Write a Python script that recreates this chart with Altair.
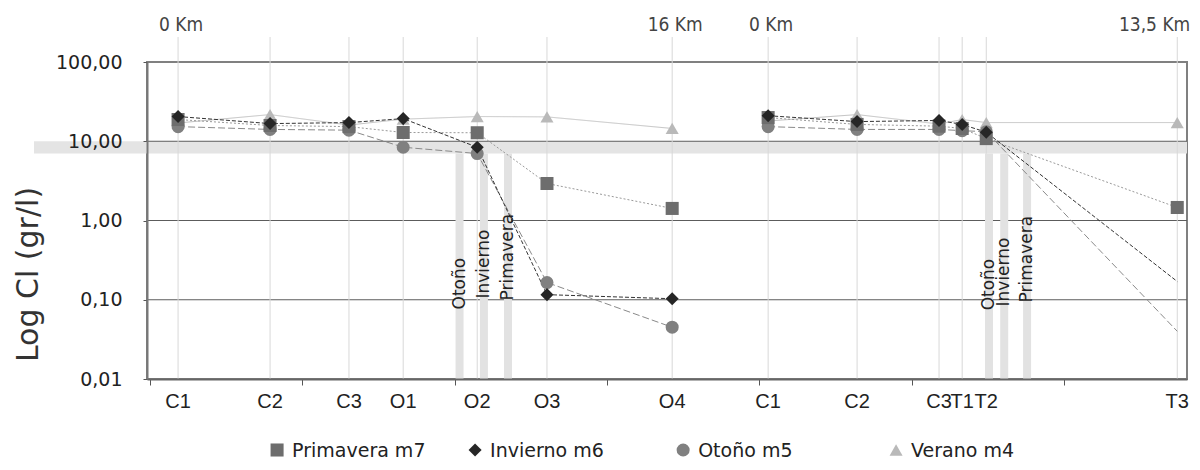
import altair as alt
import pandas as pd

# ---------------- data ----------------
stations = ["C1", "C2", "C3", "O1", "O2", "O3", "O4",
            "C1", "C2", "C3", "T1", "T2", "T3"]
river = ["O"] * 7 + ["T"] * 6
# distance along the x axis (axis units; ticks every 5)
position = [0.92, 3.94, 6.53, 8.31, 10.74, 13.03, 17.14,
            20.29, 23.21, 25.90, 26.66, 27.45, 33.72]

series_names = ["Primavera m7", "Invierno m6", "Otoño m5", "Verano m4"]
primavera = [18.8, 15.8, 15.3, 12.9, 12.8, 2.93, 1.42, 19.9, 16.3, 15.5, 14.5, 10.8, 1.46]
invierno = [20.5, 16.7, 17.2, 19.3, 8.4, 0.116, 0.103, 21.0, 17.7, 18.3, 16.3, 13.0, 0.17]
otono = [15.3, 14.1, 13.8, 8.4, 7.0, 0.165, 0.045, 15.3, 14.1, 14.1, 13.6, 13.2, 0.040]
verano = [17.0, 21.7, 16.0, 19.0, 20.5, 20.3, 14.5, 18.0, 21.7, 16.5, 18.8, 17.2, 17.2]
# points drawn as line only (no marker)
no_marker = [("Invierno m6", 12), ("Otoño m5", 12)]

km_labels = ["0 Km", "16 Km", "0 Km", "13,5 Km"]
km_station_index = [0, 6, 7, 12]

season_labels = ["Otoño", "Invierno", "Primavera", "Otoño", "Invierno", "Primavera"]
season_pos = [10.16, 10.96, 11.75, 27.54, 28.04, 28.79]
season_label_value = [0.0755, 0.1037, 0.0982, 0.0735, 0.0823, 0.0924]

band_low, band_high = 7, 10
tick_values_x = [0, 5, 10, 15, 20, 25, 30]
y_ticks = [0.01, 0.1, 1, 10, 100]

# ---------------- styles / layout ----------------
marker_colors = ["#6d6d6d", "#262626", "#808080", "#b9b9b9"]
line_colors = ["#9a9a9a", "#333333", "#8a8a8a", "#c2c2c2"]
dashes = [[2, 2], [4, 2], [7, 3], [1, 0]]
shapes = ["square", "diamond", "circle", "triangle-up"]
legend_slots = [4.17, 10.67, 17.5, 24.49]   # legend item anchors along the x axis
FONT = "DejaVu Sans"
ARIAL = "Liberation Sans"

# ---------------- tables ----------------
vals = {"Primavera m7": primavera, "Invierno m6": invierno,
        "Otoño m5": otono, "Verano m4": verano}
draw_order = ["Verano m4", "Otoño m5", "Primavera m7", "Invierno m6"]
rows = []
for name in draw_order:
    for i, v in enumerate(vals[name]):
        rows.append(dict(series=name, lseries=name, station=stations[i], river=river[i],
                         pos=position[i], value=v,
                         marker=(name, i) not in no_marker))
df = pd.DataFrame(rows)
st_df = pd.DataFrame({"pos": position, "station": stations})
km_df = pd.DataFrame({"pos": [position[i] for i in km_station_index], "label": km_labels})
season_df = pd.DataFrame({"pos": season_pos, "label": season_labels,
                          "value": season_label_value, "top": band_low})
hband_df = pd.DataFrame({"x": [-3.81], "x2": [34.04], "lo": [band_low], "hi": [band_high]})
grid_df = pd.DataFrame({"value": y_ticks[1:-1]})
legend_df = pd.DataFrame({"series": series_names, "lx": legend_slots})

# ---------------- scales / axes ----------------
xs = alt.Scale(domain=[-0.1, 34.04], nice=False, zero=False)
ys = alt.Scale(type="log", domain=[0.01, 100], nice=False)
xaxis = alt.Axis(values=tick_values_x, labels=False, title=None, grid=False,
                 ticks=True, tickSize=6, tickColor="#555555", tickWidth=1,
                 domainColor="#666666", domainWidth=2, zindex=1)
yaxis = alt.Axis(values=y_ticks,
                 labelExpr="replace(format(datum.value, '.2f'), '.', ',')",
                 title="Log Cl (gr/l)", grid=False,
                 tickSize=4, tickColor="#555555", domainColor="#777777", domainWidth=2,
                 labelFont=FONT, labelFontSize=19, labelColor="#222222", labelPadding=21,
                 titleFont=FONT, titleFontSize=30, titleFontWeight="normal",
                 titleColor="#333333", titleX=-104, titleY=212, zindex=1)
cscale = alt.Scale(domain=series_names, range=marker_colors)
sscale = alt.Scale(domain=series_names, range=shapes)

def X(field):
    return alt.X(field, scale=xs, axis=xaxis)

def Y(field):
    return alt.Y(field, scale=ys, axis=yaxis)

hband = alt.Chart(hband_df).mark_rect(color="#e4e4e4", clip=False).encode(
    x=X("x:Q"), x2="x2:Q", y=Y("lo:Q"), y2="hi:Q")

hgrid = alt.Chart(grid_df).mark_rule(color="#5c5c5c", strokeWidth=1).encode(
    y=Y("value:Q"), x=alt.value(0), x2=alt.value(1040))

vgrid = alt.Chart(st_df).mark_rule(color="#d8d8d8", strokeWidth=1, clip=False).encode(
    x=X("pos:Q"), y=alt.value(-25), y2=alt.value(317))

vbands = alt.Chart(season_df).mark_rule(color="#e2e2e2", strokeWidth=8).encode(
    x=X("pos:Q"), y=Y("top:Q"), y2=alt.value(317))

lines = alt.Chart(df).mark_line(strokeWidth=1).encode(
    x=X("pos:Q"), y=Y("value:Q"),
    stroke=alt.Stroke("lseries:N", scale=alt.Scale(domain=series_names, range=line_colors), legend=None),
    strokeDash=alt.StrokeDash("lseries:N", scale=alt.Scale(domain=series_names, range=dashes), legend=None),
    detail="river:N", order="pos:Q")

points = alt.Chart(df).transform_filter("datum.marker").mark_point(
    filled=True, size=170, opacity=1).encode(
    x=X("pos:Q"), y=Y("value:Q"),
    color=alt.Color("series:N", scale=cscale, legend=None),
    shape=alt.Shape("series:N", scale=sscale, legend=None))

# legend (symbols + labels) below the plot
legend_sym = alt.Chart(legend_df).mark_point(filled=True, size=170, opacity=1, clip=False).encode(
    x=X("lx:Q"), y=alt.value(388),
    color=alt.Color("series:N", scale=cscale, legend=None),
    shape=alt.Shape("series:N", scale=sscale, legend=None))
legend_txt = alt.Chart(legend_df).mark_text(
    align="left", baseline="middle", dx=15, font=FONT, fontSize=19, color="#222222").encode(
    x=X("lx:Q"), y=alt.value(389), text="series:N")

season_text = alt.Chart(season_df).mark_text(
    angle=270, align="left", baseline="middle", font=FONT, fontSize=17, color="#222222").encode(
    x=X("pos:Q"), y=Y("value:Q"), text="label:N")

station_text = alt.Chart(st_df).mark_text(
    baseline="middle", font=ARIAL, fontSize=20, color="#222222").encode(
    x=X("pos:Q"), y=alt.value(340), text="station:N")

kmfont = "Liberation Sans Narrow, DejaVu Sans Condensed, sans-serif"
km_text = alt.Chart(km_df.iloc[:3]).mark_text(
    baseline="middle", font=kmfont, fontSize=19, color="#444444", dx=3).encode(
    x=X("pos:Q"), y=alt.value(-37), text="label:N")
km_text_last = alt.Chart(km_df.iloc[3:]).mark_text(
    baseline="middle", align="right", font=kmfont, fontSize=19, color="#444444", dx=13).encode(
    x=X("pos:Q"), y=alt.value(-37), text="label:N")

chart = alt.layer(hband, hgrid, vgrid, vbands, lines, points, season_text, station_text,
                  km_text, km_text_last, legend_sym, legend_txt).properties(
    width=1040, height=317,
    padding={"left": 139, "top": 54, "right": 5, "bottom": 83},
    autosize=alt.AutoSizeParams(type="none"),
).configure_view(stroke="#808080", strokeWidth=2)

chart.save("out.html", embed_options={"renderer": "svg", "actions": False})
